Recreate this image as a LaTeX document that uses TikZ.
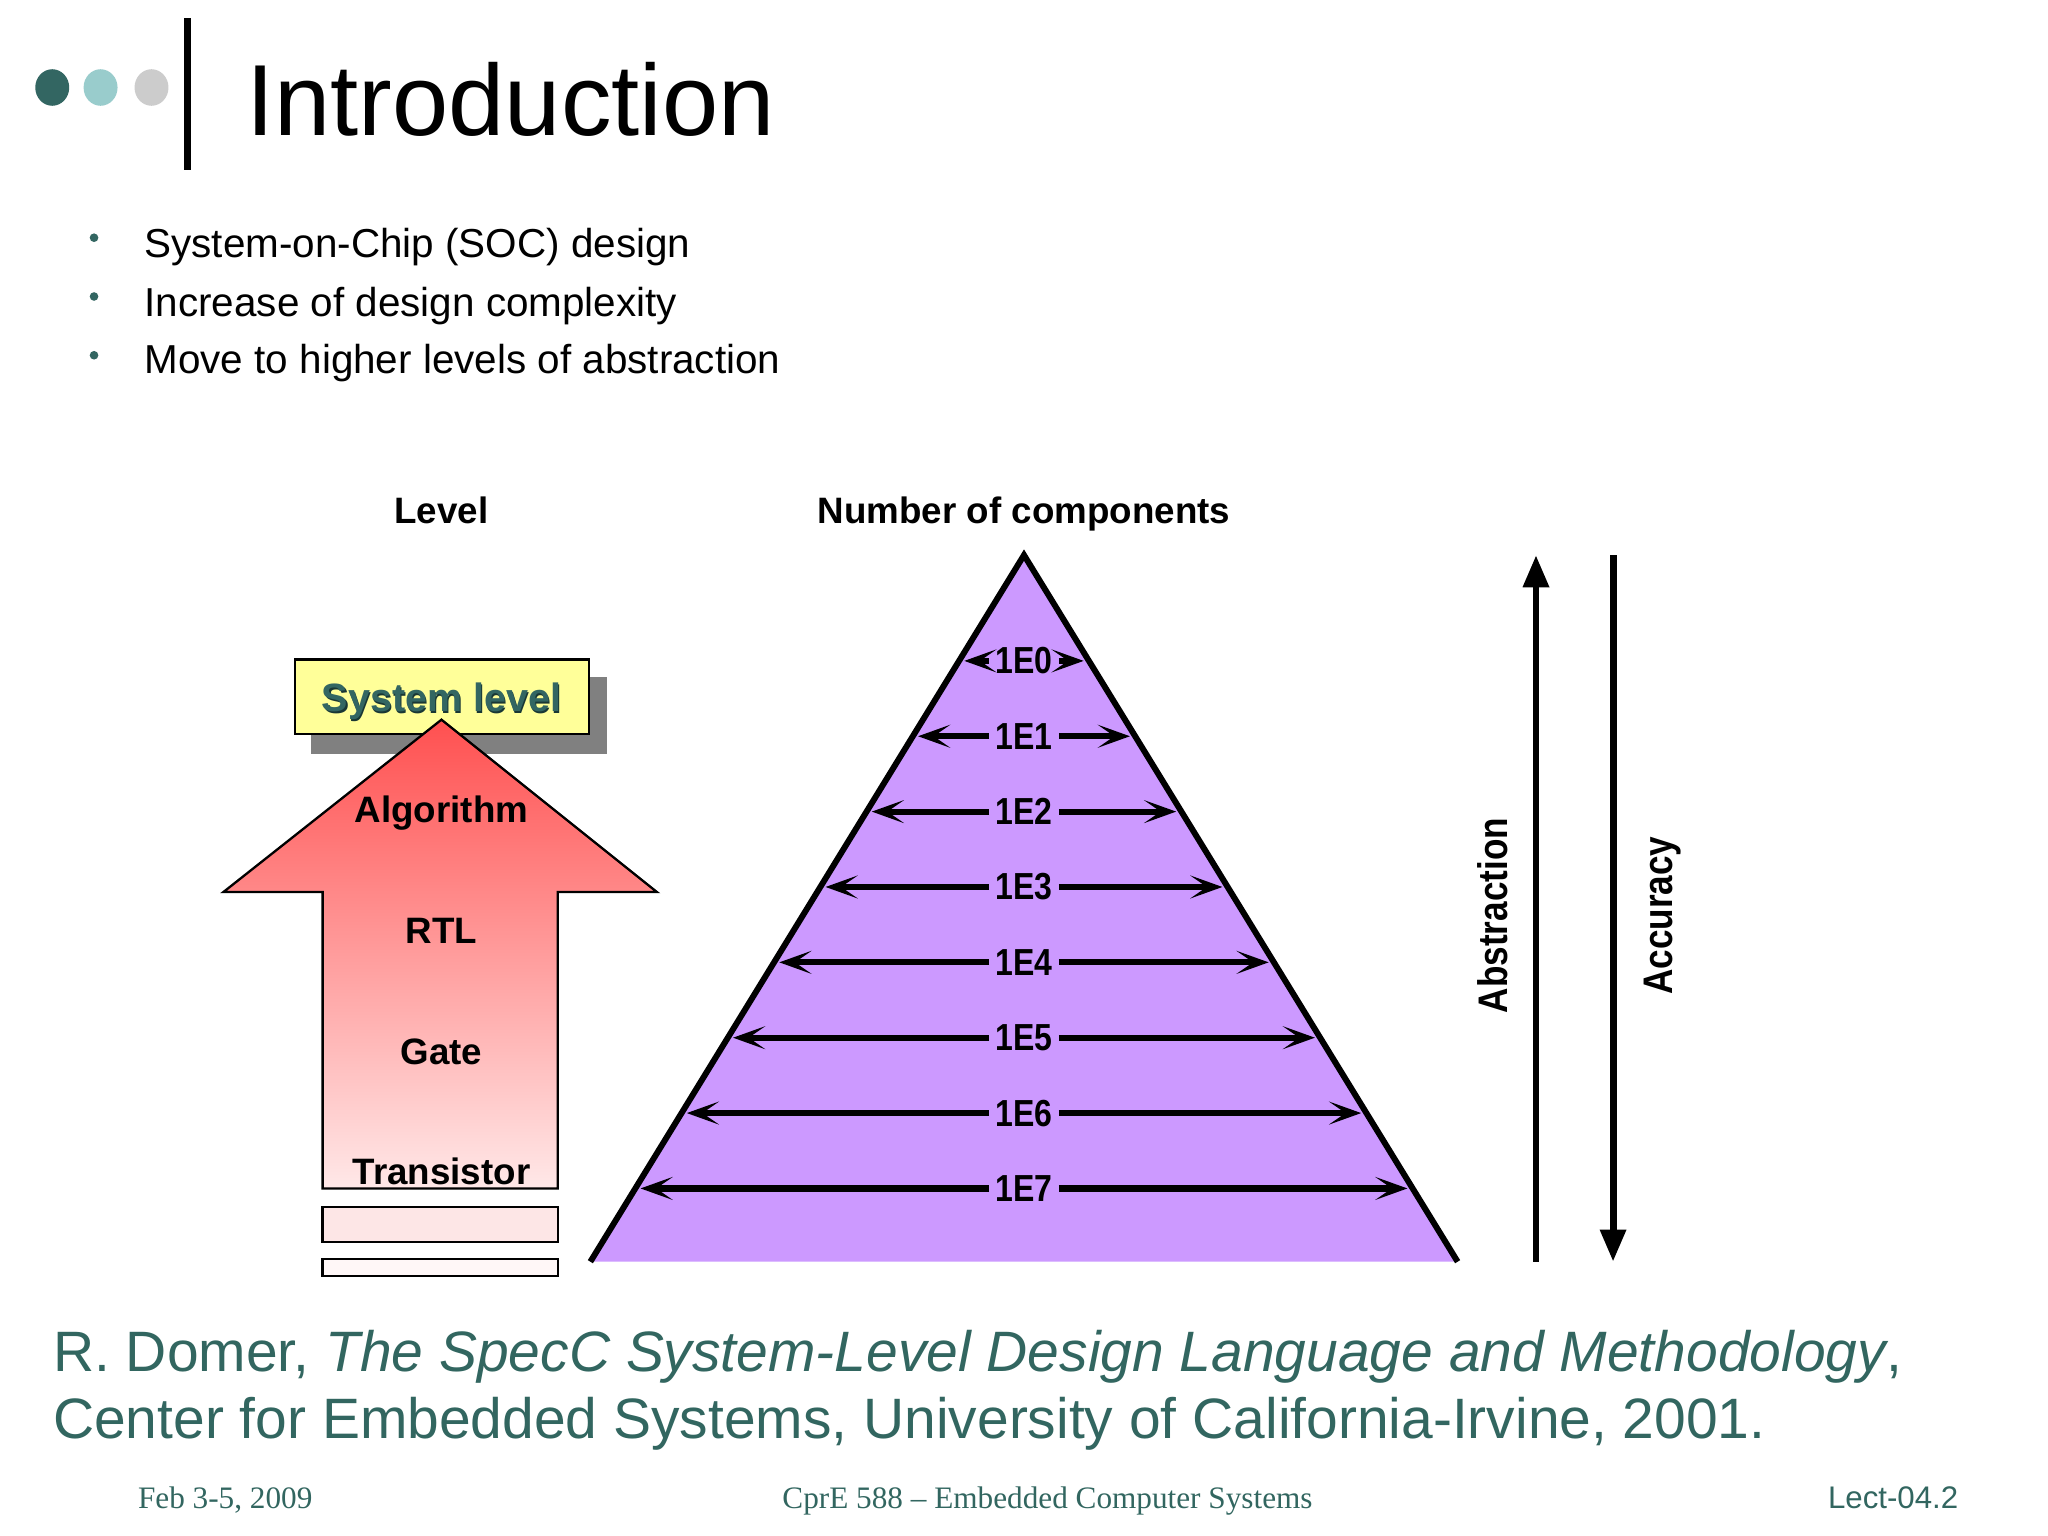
\documentclass[tikz,border=0pt]{standalone}
\usepackage{fontspec}
\setmainfont{Liberation Sans}
\newfontfamily\seriffoot[Ligatures=TeX]{Liberation Serif}
\newfontfamily\narrowsans[FakeStretch=0.85]{Liberation Sans}
\usetikzlibrary{arrows.meta}
\definecolor{tealdark}{RGB}{51,102,98}
\definecolor{teallight}{RGB}{153,204,204}
\definecolor{dotgray}{RGB}{204,204,204}
\definecolor{citeteal}{RGB}{50,102,96}
\definecolor{sysyellow}{RGB}{255,255,153}
\definecolor{shadowgray}{RGB}{128,128,128}
\definecolor{pyrpurple}{RGB}{204,153,255}
\definecolor{arrowtop}{RGB}{255,80,80}
\definecolor{arrowbottom}{RGB}{255,232,232}
\tikzset{
  titletext/.style={font=\fontsize{22}{26}\selectfont, inner sep=0pt, anchor=base west},
  bullettext/.style={font=\fontsize{8.8}{10.5}\selectfont, inner sep=0pt, anchor=base west},
  bulletdot/.style={fill=tealdark, draw=none},
  headlbl/.style={font=\bfseries\fontsize{8}{9.6}\selectfont, inner sep=0pt, anchor=base},
  levellbl/.style={font=\bfseries\fontsize{8}{9.6}\selectfont, inner sep=0pt, anchor=base},
  numlbl/.style={font=\narrowsans\bfseries\fontsize{8.2}{9.6}\selectfont, inner sep=1.2pt},
  rowarrow/.style={line width=1.35pt, -{Stealth[length=7pt,width=5pt,inset=3.6pt]}},
  bigarrow/.style={line width=1.5pt, -{Triangle[length=7pt,width=5.4pt]}},
  sidelbl/.style={font=\narrowsans\bfseries\fontsize{9}{10.8}\selectfont, inner sep=0pt, rotate=90},
  citetext/.style={font=\fontsize{12.4}{15}\selectfont, text=citeteal, inner sep=0pt, anchor=base west},
  footserif/.style={font=\seriffoot\fontsize{6.8}{8}\selectfont, text=citeteal, inner sep=0pt, anchor=base},
  footsans/.style={font=\fontsize{6.8}{8}\selectfont, text=citeteal, inner sep=0pt, anchor=base east},
}
\begin{document}
\begin{tikzpicture}[x=0.01cm,y=-0.01cm]
% canvas
\fill[white] (0,0) rectangle (1568,1176);
\useasboundingbox (0,0) rectangle (1568,1176);

% title area
\fill[tealdark] (40,67) ellipse [x radius=13, y radius=14];
\fill[teallight] (77,67) ellipse [x radius=13, y radius=14];
\fill[dotgray] (116,67) ellipse [x radius=13, y radius=14];
\fill[black] (141,14) rectangle (146,130);
\node[titletext] (title) at (188,104) {Introduction};

% bullets
\fill[bulletdot] (72,182) circle (3.3);
\fill[bulletdot] (72,227) circle (3.3);
\fill[bulletdot] (72,272) circle (3.3);
\node[bullettext] (b1) at (110,197) {System-on-Chip (SOC) design};
\node[bullettext] (b2) at (110,242) {Increase of design complexity};
\node[bullettext] (b3) at (110,286) {Move to higher levels of abstraction};

% headings
\node[headlbl] (hlevel) at (338,401) {Level};
\node[headlbl] (hnum) at (784,401) {Number of components};

% system level box
\fill[shadowgray] (238,518) rectangle (465,577);
\draw[fill=sysyellow, line width=0.5pt] (226,505) rectangle (451,562);
\node[font=\bfseries\fontsize{8.6}{10}\selectfont, text={rgb,255:red,25;green,55;blue,52}, inner sep=0pt] at (339.2,538.2) {System level};
\node[font=\bfseries\fontsize{8.6}{10}\selectfont, text=tealdark, inner sep=0pt] (sys) at (338,537) {System level};

% big arrow
\draw[line width=0.5pt, top color=arrowtop, bottom color=arrowbottom]
  (338,551) -- (503,683) -- (427,683) -- (427,910) -- (247,910) -- (247,683) -- (171,683) -- cycle;
\node[levellbl] (alg) at (338,630) {Algorithm};
\node[levellbl] (rtl) at (338,722) {RTL};
\node[levellbl] (gate) at (338,815) {Gate};
\node[levellbl] (trans) at (338,907) {Transistor};

% boxes below
\draw[line width=0.5pt, fill={rgb,255:red,253;green,230;blue,230}] (247,924) rectangle (427,951);
\draw[line width=0.5pt, fill={rgb,255:red,255;green,247;blue,247}] (247,964) rectangle (427,977);

% pyramid
\fill[pyrpurple] (784,425) -- (1116,966) -- (452,966) -- cycle;
\draw[line width=1.3pt, line join=miter] (452,966) -- (784,425) -- (1116,966);

\foreach \i in {0,...,7}{
  \pgfmathsetmacro\yy{506+57.7*\i}
  \pgfmathsetmacro\hw{(\yy-425)/541*332-4}
  \node[numlbl] (n\i) at (784,\yy) {1E\i};
  \coordinate (L\i) at ({784-\hw},\yy);
  \coordinate (R\i) at ({784+\hw},\yy);
  \draw[rowarrow] (n\i.west) -- (L\i);
  \draw[rowarrow] (n\i.east) -- (R\i);
}

% side arrows
\coordinate (abs0) at (1176,966);
\coordinate (abs1) at (1176,425);
\coordinate (acc0) at (1235,425);
\coordinate (acc1) at (1235,966);
\draw[bigarrow] (abs0) -- (abs1);
\draw[bigarrow] (acc0) -- (acc1);
\node[sidelbl] (absl) at (1143,701) {Abstraction};
\node[sidelbl] (accl) at (1273,701) {Accuracy};

% citation
\node[citetext] (cite1) at (40,1050) {R. Domer, \textit{The SpecC System-Level Design Language and Methodology},};
\node[citetext] (cite2) at (40,1101) {Center for Embedded Systems, University of California-Irvine, 2001.};

% footer
\node[footserif, anchor=base west] (fdate) at (105,1155) {Feb 3-5, 2009};
\node[footserif] (fcourse) at (802,1155) {CprE 588 – Embedded Computer Systems};
\node[footsans] (flect) at (1500,1155) {Lect-04.2};
\end{tikzpicture}
\end{document}
